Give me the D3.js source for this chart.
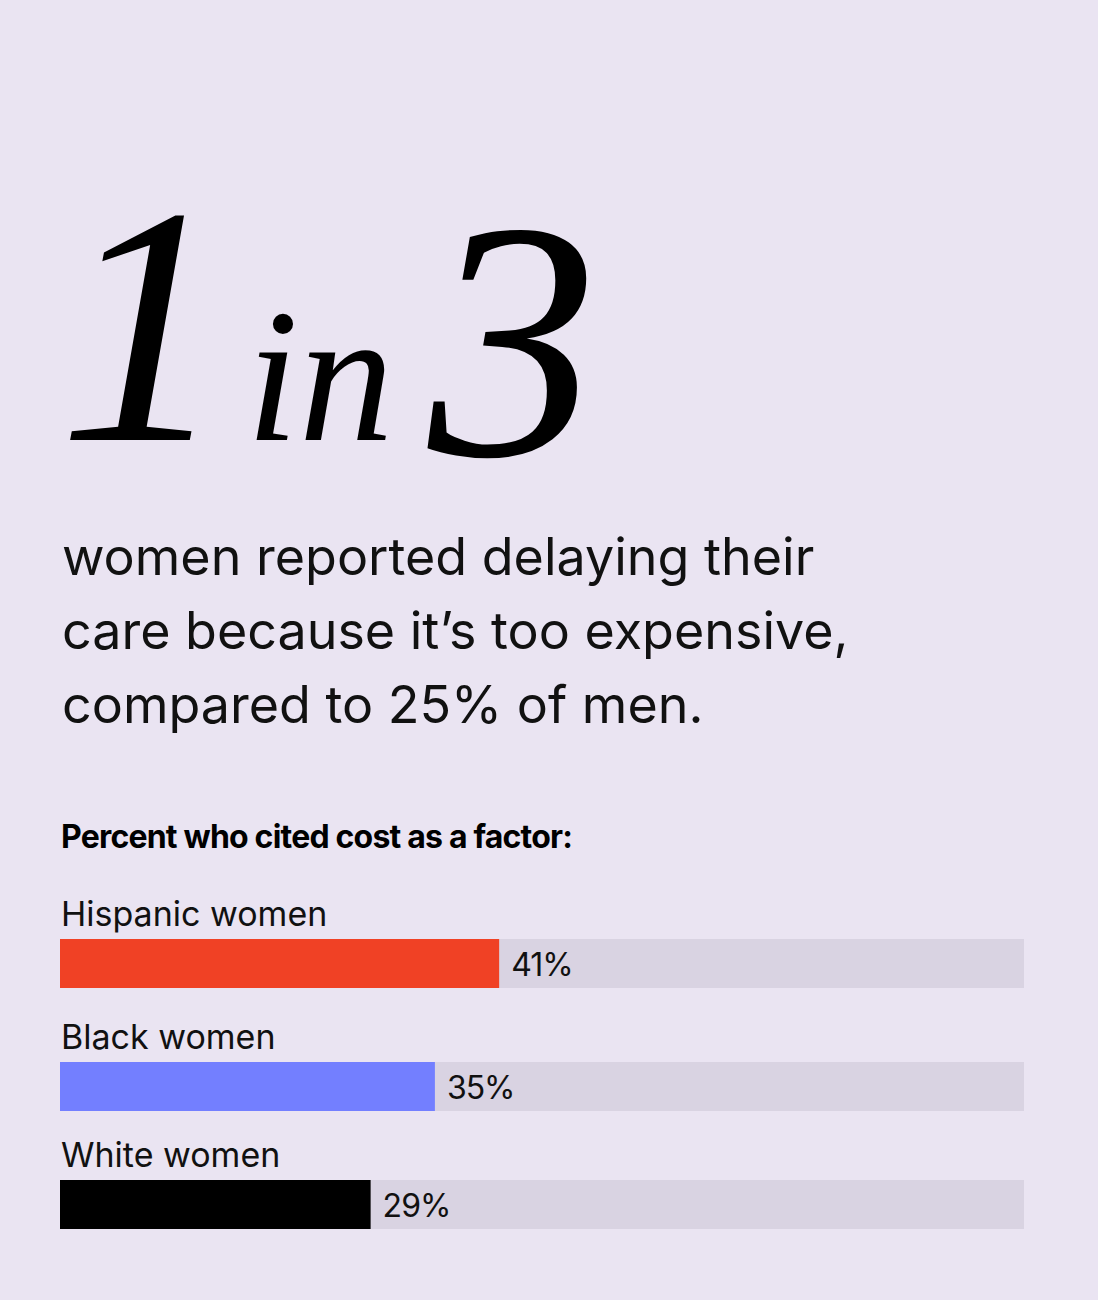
<!DOCTYPE html>
<html><head><meta charset="utf-8">
<script src="https://cdn.jsdelivr.net/npm/d3@7"></script>
<style>body{margin:0;background:#EAE4F2}</style>
</head><body>
<svg id="chart"></svg>
<script>
const categories = ["Hispanic women", "Black women", "White women"];
const values = [41, 35, 29];
const colors = ["#F04125", "#737FFF", "#000000"];
const subtitle = ["women reported delaying their", "care because it\u2019s too expensive,", "compared to 25% of men."];

const width = 1098, height = 1300;
const svg = d3.select("#chart").attr("width", width).attr("height", height);
svg.append("rect").attr("width", width).attr("height", height).attr("fill", "#EAE4F2");

// big headline
const serif = "'Liberation Serif', 'DejaVu Serif', serif";
const sans = "Inter, 'Open Sans', sans-serif";
svg.append("text").attr("x", 58).attr("y", 440).attr("font-family", serif)
    .attr("font-style", "italic").attr("font-size", 340).text("1");
svg.append("text").attr("x", 246).attr("y", 440).attr("font-family", serif)
    .attr("font-style", "italic").attr("font-size", 190).text("in");
svg.append("text").attr("x", 428).attr("y", 455).attr("font-family", serif)
    .attr("font-style", "italic").attr("font-size", 340).text("3");

// subtitle
svg.selectAll(".sub").data(subtitle).enter().append("text")
    .attr("x", 62).attr("y", (d, i) => 575 + i * 74)
    .attr("font-family", sans).attr("font-size", 52)
    .attr("fill", "#111").text(d => d);

svg.append("text").attr("x", 61).attr("y", 848)
    .attr("font-family", sans).attr("font-weight", 700)
    .attr("font-size", 32).attr("letter-spacing", -0.8).text("Percent who cited cost as a factor:");

// bars
const x = d3.scaleLinear().domain([0, 90]).range([60, 1024]);
const barTop = [939, 1062, 1180];
const barH = 49;

const g = svg.selectAll(".row").data(categories).enter().append("g");
g.append("text").attr("x", 61).attr("y", (d, i) => barTop[i] - 13)
    .attr("font-family", sans).attr("font-size", 34).attr("fill", "#111").text(d => d);
g.append("rect").attr("x", x(0)).attr("y", (d, i) => barTop[i])
    .attr("width", x(90) - x(0)).attr("height", barH).attr("fill", "#D9D3E2");
g.append("rect").attr("x", x(0)).attr("y", (d, i) => barTop[i])
    .attr("width", (d, i) => x(values[i]) - x(0)).attr("height", barH).attr("fill", (d, i) => colors[i]);
g.append("text").attr("x", (d, i) => x(values[i]) + 12).attr("y", (d, i) => barTop[i] + barH / 2 + 12)
    .attr("font-family", sans).attr("font-size", 32).attr("fill", "#111")
    .attr("letter-spacing", -1).text((d, i) => values[i] + "%");
</script>
</body></html>
